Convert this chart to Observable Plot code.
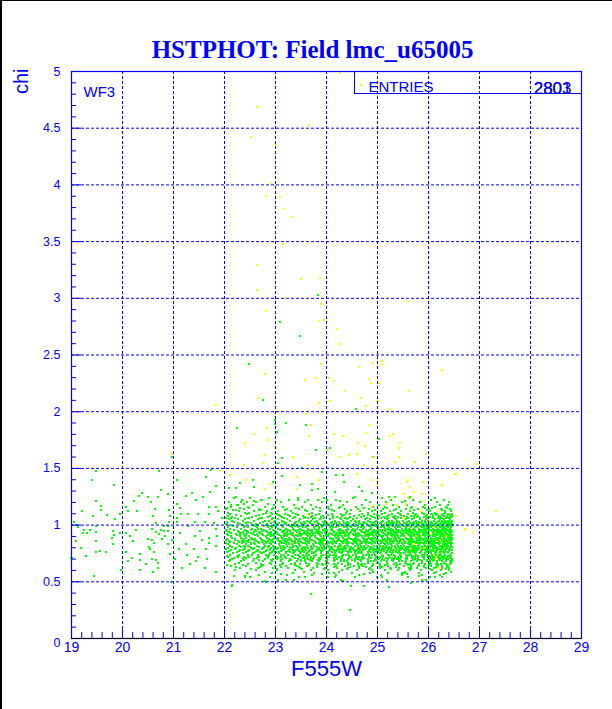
<!DOCTYPE html>
<html><head><meta charset="utf-8">
<script src="https://cdn.jsdelivr.net/npm/d3@7"></script>
<script src="https://cdn.jsdelivr.net/npm/@observablehq/plot@0.6"></script>
<style>
html,body{margin:0;padding:0;background:#fff;}
#wrap{position:relative;width:612px;height:709px;overflow:hidden;background:#fff;}
#bl{position:absolute;left:0;top:0;width:2px;height:709px;background:#000;}
#bt{position:absolute;left:0;top:0;width:612px;height:1px;background:#000;}
</style></head>
<body><div id="wrap"><div id="chart"></div><div id="bl"></div><div id="bt"></div></div>
<script>
const titleText = "HSTPHOT: Field lmc_u65005";
const xTitle = "F555W";
const yTitle = "chi";
const fieldLabel = "WF3";
const statsName = "ENTRIES";
const statsValues = ["2803", "2801"];
const xTicks = [19, 20, 21, 22, 23, 24, 25, 26, 27, 28, 29];
const yTicks = [0, 0.5, 1, 1.5, 2, 2.5, 3, 3.5, 4, 4.5, 5];

// sparse green points
const greenSparse = [
[19.48,1.475],[20.71,1.475],[19.40,1.40],[19.83,1.35],[20.75,1.31],[20.38,1.28],[20.32,1.26],[20.50,1.25],[20.70,1.25],[20.89,1.27],[19.49,1.21],[20.23,1.21],[20.55,1.20],[19.57,1.17],[20.07,1.16],[20.63,1.14],[19.58,1.13],[19.21,1.12],[20.11,1.12],[20.28,1.12],[19.95,1.10],[19.69,1.09],[19.42,1.08],[20.59,1.08],[20.93,1.08],[19.85,1.05],[19.05,1.03],[20.66,1.02],[19.09,1.00],[19.49,0.99],[20.82,0.99],[19.13,0.98],[20.90,0.99],[20.27,0.96],[19.25,0.96],[19.36,0.96],[20.58,0.97],[20.75,0.96],[19.48,0.94],[19.81,0.945],[20.66,0.94],[20.82,0.945],[19.23,0.93],[19.30,0.93],[19.95,0.93],[20.06,0.93],[19.83,0.91],[20.72,0.92],[20.84,0.90],[20.15,0.90],[19.79,0.89],[20.78,0.88],[20.50,0.88],[19.09,0.86],[19.48,0.86],[20.20,0.86],[20.58,0.87],[20.62,0.84],[19.81,0.83],[20.89,0.83],[20.52,0.81],[19.18,0.80],[20.54,0.79],[20.06,0.76],[19.49,0.76],[19.56,0.77],[19.68,0.76],[20.34,0.745],[20.62,0.76],[19.28,0.73],[20.19,0.71],[20.58,0.70],[20.34,0.69],[20.66,0.69],[20.11,0.68],[20.70,0.67],[20.46,0.66],[20.70,0.62],[20.34,0.60],[19.97,0.60],[20.59,0.59],[19.45,0.55],[19.00,0.71],
[20.97,1.60],[21.74,1.49],[21.63,1.42],[21.07,1.40],[22.56,1.40],[21.83,1.345],[22.09,1.33],[21.71,1.29],[21.36,1.28],[21.24,1.26],[22.22,1.25],[22.50,1.24],[21.58,1.25],[22.39,1.19],[22.33,1.20],[22.12,1.18],[22.85,1.19],[21.06,1.19],[21.44,1.22],[22.58,1.21],[21.12,1.15],[21.69,1.16],[21.84,1.16],[22.04,1.15],[22.23,1.13],[22.48,1.15],[22.67,1.13],[20.91,1.13],[21.29,1.10],[21.49,1.10],[21.70,1.10],[21.88,1.12],[21.15,1.10],[22.41,1.11],[22.82,1.11],[22.94,1.10],[21.95,1.06],[22.12,1.06],[22.05,1.03],[21.06,1.06],[21.62,1.03],[21.42,1.03],[20.91,1.03],[22.27,1.05],[22.46,1.06],[22.70,1.06],[21.80,1.02],[21.07,1.03],[21.29,0.99],[21.52,0.95],[20.90,0.95],[21.83,0.97],[21.12,0.93],[21.42,0.90],[21.69,0.885],[21.56,0.87],[20.98,0.87],[21.86,0.90],[21.24,0.83],[21.83,0.82],[21.69,0.84],[21.10,0.79],[21.41,0.79],[21.63,0.79],[20.93,0.745],[21.27,0.74],[21.48,0.715],[21.03,0.70],[21.66,0.70],[21.32,0.66],[21.61,0.62],[21.17,0.62],[21.84,0.59],[21.44,0.68],[20.95,0.50],[22.14,0.46],[22.81,0.50],[22.41,0.54],
[23.05,1.55],[23.13,1.59],[23.51,1.50],[23.92,1.47],[24.18,1.44],[24.32,1.44],[23.80,1.66],[22.90,1.36],[22.22,1.33],[22.31,1.37],[22.57,1.34],[22.96,1.38],[23.13,1.43],[23.48,1.35],[23.72,1.31],[23.71,1.36],[23.83,1.32],[24.17,1.29],[24.35,1.38],[24.70,1.30],[24.90,1.28],[24.64,1.34],[25.23,1.25],[25.35,1.25],[25.53,1.21],[24.55,1.25],[23.45,1.22],[23.63,1.22],[24.01,1.22],[24.26,1.21],[23.03,1.22],[22.74,1.22],[22.44,1.20],[22.27,1.18],
[25.64,1.25],[25.72,1.29],[25.93,1.15],[26.04,1.10],[26.39,1.04],[26.43,0.89],[26.47,0.68],[26.44,0.59],[26.27,0.54],[26.03,0.54],[25.66,0.49],[25.88,0.52],
[22.15,0.47],[23.69,0.39],[22.80,0.51],[23.05,0.52],[23.20,0.52],[24.05,0.58],[24.16,0.54],[24.32,0.51],[24.48,0.46],[24.74,0.46],[25.23,0.45],[25.66,0.49],[25.82,0.55],[25.48,0.58],[24.99,0.54],[23.57,0.54],[22.50,0.54],[22.41,0.55],[22.18,0.55],[24.47,0.25],
[23.83,3.03],[23.09,2.79],[23.48,2.67],[22.48,2.42],[22.76,2.10],[24.58,2.02],[22.99,1.93],[22.99,1.89],[23.21,1.90],[22.24,1.86],[23.60,1.88],[23.02,1.82],[25.03,1.76],[23.80,1.66],[24.07,1.68],[24.92,1.60]
];

// dense main band, read row by row: [chi, [F555W values]]
const greenBand = [
[1.24,[22.18,22.87,23.44,23.96,24.52,25.08,25.61,26.12]],
[1.22,[22.35,22.71,23.27,23.83,24.19,24.77,25.26,25.70,26.05,26.31]],
[1.20,[22.08,22.62,23.11,23.58,23.92,24.41,24.86,25.17,25.49,25.83,26.16,26.40]],
[1.18,[22.24,22.55,22.98,23.36,23.70,24.08,24.33,24.69,25.02,25.31,25.58,25.94,26.22,26.38]],
[1.16,[22.12,22.46,22.80,23.14,23.51,23.79,24.02,24.27,24.58,24.91,25.14,25.42,25.67,25.90,26.13,26.35]],
[1.15,[22.31,22.95,23.41,23.88,24.24,24.73,25.19,25.66,26.07,26.36]],
[1.14,[22.03,22.39,22.68,22.94,23.23,23.47,23.74,24.05,24.36,24.62,24.84,25.11,25.37,25.55,25.79,26.01,26.24,26.43]],
[1.13,[22.16,22.72,23.19,23.57,24.11,24.48,24.95,25.32,25.71,25.98,26.27,26.45]],
[1.12,[22.29,22.58,22.83,23.05,23.31,23.62,23.88,24.14,24.40,24.66,24.89,25.06,25.24,25.46,25.63,25.85,26.03,26.19,26.33,26.44]],
[1.11,[22.49,22.91,23.35,23.71,23.99,24.38,24.81,25.15,25.40,25.69,25.88,26.12,26.32,22.07]],
[1.10,[22.10,22.44,22.76,23.02,23.19,23.40,23.66,23.86,24.10,24.29,24.47,24.70,24.93,25.09,25.28,25.44,25.60,25.76,25.92,26.06,26.17,26.29,26.39,26.46]],
[1.09,[22.22,22.67,23.06,23.44,23.79,24.03,24.35,24.64,24.99,25.22,25.47,25.74,25.97,26.14,26.26,26.43,23.24,24.82]],
[1.08,[22.06,22.33,22.61,22.90,23.09,23.28,23.53,23.72,23.93,24.12,24.31,24.54,24.73,24.88,25.03,25.19,25.35,25.51,25.65,25.80,25.95,26.08,26.20,26.30,26.37,26.42,26.47,25.72]],
[1.07,[22.14,22.53,22.86,23.13,23.38,23.69,23.90,24.21,24.47,24.68,24.91,25.12,25.30,25.57,25.78,25.91,26.03,26.23,26.36,26.45,23.57,25.40]],
[1.06,[22.21,22.49,22.73,22.96,23.16,23.34,23.55,23.77,23.95,24.13,24.26,24.44,24.60,24.79,24.95,25.07,25.21,25.33,25.47,25.59,25.71,25.84,25.97,26.09,26.18,26.26,26.34,26.41,22.02,23.63,24.37,25.14]],
[1.05,[22.08,22.40,22.66,22.93,23.22,23.49,23.74,23.88,24.07,24.28,24.52,24.75,24.86,25.01,25.18,25.36,25.55,25.68,25.83,25.95,26.13,26.22,26.30,26.42,23.05,24.40]],
[1.04,[22.14,22.37,22.57,22.79,22.99,23.12,23.29,23.46,23.61,23.81,23.98,24.16,24.33,24.49,24.64,24.81,24.97,25.10,25.23,25.38,25.50,25.62,25.75,25.88,25.99,26.11,26.21,26.32,26.40,26.46,22.88,23.70,24.56,25.29,25.93,26.27]],
[1.03,[22.19,22.47,22.75,22.98,23.17,23.41,23.55,23.77,23.93,24.11,24.25,24.41,24.58,24.73,24.94,25.08,25.21,25.42,25.58,25.72,25.81,25.93,26.05,26.17,26.29,26.37,26.45,23.66,24.86,25.31]],
[1.02,[22.04,22.27,22.52,22.70,22.92,23.07,23.21,23.38,23.50,23.68,23.84,24.00,24.18,24.34,24.45,24.63,24.76,24.90,25.04,25.16,25.27,25.39,25.52,25.64,25.77,25.86,25.96,26.07,26.15,26.24,26.33,26.43,22.43,23.58,24.09,24.71,25.33,25.70,26.02,26.38]],
[1.01,[22.03,22.30,22.61,22.84,23.03,23.19,23.37,23.52,23.71,23.86,24.02,24.15,24.38,24.54,24.66,24.80,24.95,25.07,25.22,25.31,25.45,25.55,25.67,25.80,25.89,26.03,26.12,26.20,26.31,26.40,26.47,23.95,24.27,25.72]],
[1.00,[22.11,22.34,22.55,22.81,22.97,23.10,23.26,23.42,23.56,23.73,23.89,24.04,24.21,24.30,24.42,24.58,24.69,24.85,24.98,25.12,25.25,25.36,25.48,25.57,25.68,25.81,25.91,26.00,26.10,26.19,26.28,26.36,26.44,22.66,23.33,23.97,24.51,24.92,25.19,25.62,25.98,26.23,26.48,23.80]],
[0.99,[22.16,22.40,22.59,22.78,22.99,23.12,23.28,23.48,23.64,23.79,23.93,24.09,24.24,24.37,24.55,24.72,24.84,24.96,25.09,25.20,25.31,25.43,25.52,25.64,25.75,25.84,25.94,26.03,26.12,26.20,26.29,26.35,26.43,23.39,24.46,25.58,26.07,22.90]],
[0.98,[22.07,22.25,22.47,22.64,22.86,23.01,23.15,23.32,23.45,23.60,23.76,23.91,24.06,24.19,24.35,24.48,24.61,24.74,24.87,25.00,25.13,25.22,25.34,25.45,25.56,25.66,25.78,25.87,25.97,26.05,26.14,26.22,26.31,26.39,26.45,22.38,22.94,23.53,24.12,24.67,25.06,25.40,25.73,26.02,26.27,23.85,24.40,25.92]],
[0.97,[22.10,22.33,22.54,22.72,22.90,23.05,23.21,23.34,23.49,23.63,23.78,23.97,24.10,24.26,24.43,24.59,24.71,24.87,25.01,25.14,25.27,25.37,25.49,25.61,25.71,25.82,25.91,26.00,26.09,26.18,26.26,26.34,26.42,23.86,24.52,25.20,25.55,25.95,26.30,22.66]],
[0.96,[22.02,22.19,22.41,22.59,22.77,22.95,23.08,23.24,23.37,23.52,23.66,23.82,23.94,24.08,24.23,24.38,24.50,24.65,24.78,24.93,25.05,25.17,25.30,25.41,25.53,25.63,25.74,25.85,25.95,26.04,26.12,26.21,26.30,26.37,26.44,22.52,23.18,23.71,24.29,24.83,25.24,25.58,25.89,26.17,26.41,23.45,24.01,24.56,25.11,25.69]],
[0.95,[22.05,22.26,22.44,22.62,22.81,22.99,23.15,23.28,23.41,23.55,23.69,23.84,23.98,24.12,24.25,24.40,24.53,24.67,24.80,24.91,25.03,25.15,25.28,25.39,25.50,25.60,25.72,25.81,25.91,26.01,26.10,26.18,26.27,26.35,26.43,23.62,24.33,24.97,25.45,25.86,26.22,22.73]],
[0.94,[22.09,22.28,22.46,22.67,22.84,23.00,23.13,23.29,23.43,23.57,23.72,23.87,24.00,24.14,24.27,24.41,24.55,24.70,24.82,24.96,25.08,25.20,25.32,25.43,25.55,25.65,25.76,25.86,25.96,26.06,26.15,26.24,26.33,26.40,26.47,22.36,22.91,23.49,23.97,24.48,24.89,25.27,25.61,25.93,26.19,22.58,23.22,23.80,24.35,24.75,25.37,25.81]],
[0.93,[22.13,22.33,22.52,22.70,22.87,23.02,23.19,23.34,23.48,23.64,23.77,23.91,24.06,24.21,24.33,24.47,24.61,24.73,24.87,25.00,25.11,25.24,25.35,25.46,25.58,25.70,25.79,25.89,25.99,26.08,26.17,26.26,26.34,26.42,23.55,24.28,24.92,25.52,25.94,26.21,22.45,23.83]],
[0.92,[22.05,22.22,22.39,22.56,22.73,22.89,23.04,23.17,23.31,23.46,23.59,23.74,23.86,23.99,24.11,24.25,24.37,24.52,24.64,24.77,24.90,25.02,25.14,25.26,25.38,25.49,25.60,25.71,25.82,25.91,26.01,26.10,26.19,26.28,26.36,26.43,22.63,23.25,23.67,24.18,24.58,24.97,25.31,25.66,25.98,26.24,22.31,22.98,23.52,24.04,24.44,24.84,25.20,25.77]],
[0.91,[22.07,22.25,22.43,22.59,22.76,22.93,23.07,23.21,23.33,23.48,23.61,23.73,23.88,24.00,24.13,24.27,24.40,24.54,24.66,24.79,24.92,25.04,25.16,25.27,25.39,25.50,25.61,25.71,25.80,25.90,25.99,26.09,26.17,26.25,26.33,26.41,26.47,23.41,24.19,24.85,25.33,25.76,26.13,22.85]],
[0.90,[22.12,22.30,22.49,22.65,22.82,22.97,23.10,23.22,23.36,23.50,23.63,23.78,23.90,24.03,24.16,24.30,24.43,24.57,24.69,24.81,24.94,25.06,25.18,25.29,25.41,25.52,25.63,25.73,25.84,25.94,26.03,26.13,26.22,26.31,26.38,26.45,22.40,22.91,23.44,23.95,24.37,24.75,25.11,25.46,25.79,26.08,26.34,23.16,23.70,24.22,24.62,25.00,25.35,25.68,25.99,26.26]],
[0.89,[22.15,22.33,22.51,22.69,22.84,22.99,23.12,23.26,23.39,23.53,23.67,23.80,23.93,24.06,24.19,24.32,24.45,24.58,24.71,24.84,24.96,25.08,25.20,25.32,25.43,25.55,25.65,25.75,25.86,25.96,26.05,26.14,26.23,26.31,26.39,26.46,22.42,23.60,24.25,24.90,25.37,25.81,26.19,23.05]],
[0.88,[22.04,22.21,22.37,22.54,22.71,22.88,23.02,23.14,23.28,23.41,23.55,23.68,23.83,23.96,24.09,24.22,24.35,24.48,24.60,24.73,24.86,24.99,25.10,25.22,25.34,25.45,25.57,25.67,25.78,25.88,25.97,26.07,26.16,26.25,26.33,26.41,22.60,23.20,23.62,24.13,24.54,24.92,25.27,25.61,25.92,26.20,26.46,22.96,23.48,23.89,24.40,24.79,25.15,25.50,25.83,26.11]],
[0.87,[22.02,22.20,22.39,22.57,22.74,22.91,23.04,23.17,23.30,23.44,23.57,23.71,23.85,23.98,24.12,24.25,24.38,24.51,24.63,24.76,24.88,25.01,25.13,25.24,25.36,25.47,25.59,25.69,25.80,25.90,25.99,26.09,26.18,26.27,26.35,26.42,22.48,23.24,23.91,24.57,25.18,25.64,26.04,26.31]],
[0.86,[22.08,22.26,22.44,22.61,22.78,22.93,23.06,23.19,23.33,23.47,23.60,23.75,23.88,24.01,24.14,24.28,24.41,24.53,24.66,24.80,24.91,25.04,25.16,25.28,25.39,25.51,25.62,25.72,25.83,25.93,26.02,26.12,26.21,26.30,26.37,26.44,22.35,22.85,23.38,23.93,24.35,24.73,25.09,25.44,25.77,26.07,26.33,23.11,23.66,24.21,24.59,24.97,25.33,25.67,25.98,26.26]],
[0.85,[22.11,22.29,22.47,22.65,22.82,22.96,23.09,23.23,23.37,23.50,23.63,23.78,23.90,24.03,24.16,24.30,24.43,24.56,24.68,24.81,24.93,25.06,25.18,25.30,25.41,25.53,25.64,25.74,25.84,25.94,26.03,26.12,26.21,26.30,26.38,26.45,22.38,23.44,24.09,24.75,25.24,25.69,26.08,22.73]],
[0.84,[22.03,22.18,22.34,22.51,22.68,22.84,22.99,23.12,23.26,23.39,23.53,23.65,23.80,23.92,24.05,24.18,24.32,24.45,24.57,24.70,24.83,24.95,25.07,25.19,25.31,25.43,25.54,25.65,25.75,25.86,25.95,26.04,26.14,26.23,26.32,26.40,22.57,23.17,23.58,24.10,24.50,24.88,25.24,25.59,25.90,26.18,26.47,22.90,23.44,23.86,24.38,24.77,25.13,25.48,25.80,26.09]],
[0.83,[22.06,22.24,22.42,22.60,22.77,22.92,23.06,23.20,23.33,23.47,23.60,23.74,23.87,24.00,24.13,24.27,24.40,24.52,24.65,24.78,24.90,25.03,25.15,25.27,25.38,25.50,25.61,25.72,25.82,25.92,26.01,26.11,26.20,26.28,26.37,26.44,22.51,23.27,23.94,24.59,25.21,25.66,26.06,26.33]],
[0.82,[22.10,22.28,22.46,22.63,22.80,22.95,23.08,23.22,23.35,23.49,23.62,23.76,23.89,24.02,24.16,24.29,24.42,24.55,24.68,24.81,24.93,25.05,25.17,25.29,25.40,25.52,25.63,25.74,25.85,25.94,26.04,26.13,26.22,26.31,26.39,26.45,22.38,22.88,23.41,23.95,24.36,24.74,25.10,25.46,25.79,26.08,26.35,23.14,23.69,24.24,24.62,24.99,25.35,25.69,25.99,26.27]],
[0.81,[22.14,22.32,22.50,22.68,22.85,22.99,23.14,23.28,23.42,23.55,23.69,23.82,23.96,24.09,24.22,24.35,24.48,24.62,24.74,24.87,24.99,25.11,25.23,25.35,25.46,25.58,25.68,25.79,25.89,25.98,26.08,26.17,26.26,26.34,26.42,22.41,23.35,24.04,24.68,25.17,25.62,26.03,26.47,22.77]],
[0.80,[22.06,22.23,22.41,22.58,22.75,22.91,23.04,23.18,23.31,23.45,23.58,23.72,23.85,23.98,24.11,24.25,24.38,24.51,24.64,24.77,24.89,25.02,25.14,25.26,25.37,25.49,25.60,25.71,25.81,25.91,26.01,26.10,26.19,26.28,26.36,26.43,22.52,23.11,23.64,24.06,24.47,24.85,25.21,25.55,25.87,26.15,22.97,23.51,23.92,24.33,24.72,25.09,25.43,25.76]],
[0.79,[22.03,22.21,22.39,22.56,22.73,22.89,23.03,23.16,23.30,23.44,23.58,23.71,23.84,23.97,24.10,24.23,24.37,24.50,24.62,24.75,24.88,25.00,25.12,25.24,25.36,25.47,25.58,25.69,25.80,25.90,26.00,26.09,26.18,26.27,26.35,26.43,23.51,24.29,24.94,25.52,25.95,26.22]],
[0.78,[22.13,22.31,22.49,22.66,22.83,22.98,23.13,23.27,23.40,23.54,23.67,23.81,23.94,24.07,24.20,24.33,24.46,24.59,24.72,24.84,24.97,25.09,25.21,25.33,25.45,25.56,25.67,25.78,25.88,25.98,26.07,26.16,26.25,26.33,26.41,26.47,22.36,22.89,23.35,23.88,24.27,24.66,25.03,25.39,25.73,26.03,26.30,23.60,24.14,24.53,24.92,25.27,25.62,25.94]],
[0.77,[22.09,22.28,22.46,22.64,22.81,22.96,23.10,23.25,23.38,23.52,23.65,23.79,23.92,24.05,24.18,24.32,24.45,24.58,24.70,24.83,24.95,25.07,25.19,25.31,25.43,25.54,25.65,25.76,25.86,25.96,26.06,26.15,26.24,26.32,26.40,23.46,24.38,25.12,25.72,26.11]],
[0.76,[22.05,22.24,22.43,22.60,22.78,22.94,23.07,23.21,23.36,23.50,23.63,23.77,23.90,24.03,24.17,24.30,24.43,24.56,24.69,24.82,24.94,25.06,25.18,25.30,25.42,25.53,25.64,25.75,25.85,25.95,26.05,26.14,26.23,26.32,26.39,22.69,23.29,23.71,24.24,24.63,25.00,25.36,25.69,26.00,26.28,23.00,23.56,24.10,24.49,24.88,25.24,25.59]],
[0.75,[22.16,22.36,22.55,22.74,22.90,23.06,23.20,23.35,23.49,23.62,23.76,23.89,24.02,24.16,24.29,24.42,24.55,24.68,24.81,24.93,25.05,25.17,25.29,25.41,25.52,25.63,25.74,25.84,25.94,26.04,26.13,26.22,26.31,26.39,26.46,23.71,24.62,25.46]],
[0.74,[22.11,22.29,22.47,22.65,22.81,22.97,23.11,23.25,23.39,23.53,23.66,23.80,23.93,24.06,24.19,24.32,24.45,24.58,24.71,24.83,24.96,25.08,25.20,25.32,25.44,25.55,25.66,25.76,25.87,25.97,26.06,26.15,26.24,26.33,26.42,22.54,23.17,23.59,24.12,24.52,24.90,25.26,25.61,25.92,26.20,22.88,23.45,23.99,24.38,24.77]],
[0.73,[22.04,22.25,22.46,22.66,22.84,23.01,23.16,23.32,23.47,23.61,23.75,23.89,24.03,24.17,24.30,24.44,24.58,24.71,24.84,24.97,25.10,25.22,25.34,25.46,25.58,25.69,25.80,25.91,26.01,26.11,26.21,26.30,26.38,26.45]],
[0.72,[22.07,22.27,22.48,22.68,22.86,23.03,23.19,23.34,23.48,23.62,23.76,23.90,24.04,24.18,24.31,24.44,24.57,24.70,24.84,24.97,25.10,25.22,25.34,25.46,25.57,25.68,25.79,25.89,25.99,26.09,26.18,26.27,26.36,26.44,22.39,23.10,23.69,24.24,24.64,25.04,25.40,25.73,26.04,26.31,23.55,24.49]],
[0.71,[22.18,22.42,22.64,22.85,23.04,23.21,23.38,23.54,23.70,23.85,24.00,24.15,24.30,24.45,24.60,24.74,24.88,25.02,25.16,25.29,25.42,25.55,25.67,25.79,25.91,26.02,26.13,26.23,26.33,26.42]],
[0.70,[22.15,22.37,22.58,22.79,22.96,23.13,23.28,23.44,23.58,23.73,23.87,24.01,24.15,24.29,24.42,24.56,24.69,24.82,24.95,25.08,25.21,25.33,25.45,25.57,25.69,25.80,25.91,26.01,26.11,26.20,26.29,26.38,26.46,23.02,23.64,24.21,24.62,25.01,25.38,25.74,26.06,26.34]],
[0.69,[22.11,22.39,22.67,22.91,23.11,23.31,23.50,23.67,23.84,24.01,24.17,24.34,24.50,24.66,24.82,24.98,25.13,25.28,25.42,25.56,25.70,25.84,25.97,26.10,26.22,26.34]],
[0.68,[22.09,22.33,22.55,22.76,22.93,23.10,23.26,23.42,23.57,23.72,23.86,24.00,24.14,24.28,24.41,24.55,24.68,24.81,24.94,25.07,25.19,25.31,25.43,25.55,25.66,25.77,25.88,25.98,26.08,26.17,26.26,26.35,26.43,23.50,24.35,24.88,25.49,26.02]],
[0.67,[22.28,22.61,22.89,23.14,23.38,23.60,23.81,24.02,24.22,24.42,24.62,24.81,25.00,25.18,25.36,25.54,25.71,25.87,26.02,26.17,26.31,26.44]],
[0.66,[22.20,22.46,22.71,22.92,23.12,23.31,23.49,23.66,23.83,23.99,24.15,24.30,24.46,24.61,24.76,24.91,25.05,25.19,25.32,25.45,25.58,25.70,25.82,25.94,26.05,26.15,26.25,26.34,26.42,23.92,24.70,25.63]],
[0.65,[22.37,22.76,23.09,23.39,23.66,23.93,24.18,24.43,24.68,24.92,25.15,25.38,25.60,25.81,26.01,26.19,26.36,22.05]],
[0.64,[22.12,22.43,22.74,22.99,23.21,23.43,23.62,23.82,24.01,24.19,24.37,24.54,24.72,24.89,25.05,25.21,25.36,25.51,25.65,25.79,25.92,26.04,26.16,26.27,26.38,24.63]],
[0.63,[22.22,22.69,23.10,23.47,23.82,24.15,24.47,24.78,25.08,25.37,25.65,25.91,26.15,26.37]],
[0.62,[22.31,22.66,22.95,23.24,23.49,23.74,23.97,24.20,24.42,24.64,24.85,25.05,25.24,25.43,25.61,25.78,25.95,26.11,26.26,26.40]],
[0.61,[22.51,23.02,23.51,23.96,24.41,24.84,25.26,25.66,26.02,26.34]],
[0.60,[22.21,22.62,23.03,23.38,23.70,24.02,24.31,24.60,24.89,25.15,25.40,25.64,25.86,26.06,26.24,26.41]],
[0.59,[22.80,23.56,24.25,24.91,25.54,26.14,26.45]],
[0.58,[22.45,22.93,23.35,23.76,24.14,24.50,24.86,25.20,25.52,25.82,26.10,26.35]],
[0.57,[23.10,23.92,24.74,25.58,26.30]],
[0.56,[22.68,23.22,23.71,24.19,24.63,25.07,25.49,25.88,26.23]],
[0.54,[22.90,23.47,24.02,24.55,25.09,25.60,26.12]],
[0.52,[23.36,24.29,25.18,25.95]]
];

const yellowPts = [
[24.27,4.985],[24.68,4.88],[22.63,4.69],[23.66,4.53],[22.52,4.42],[23.01,4.35],[22.92,4.01],[22.82,3.90],[23.09,3.89],[23.17,3.79],[23.33,3.72],[23.14,3.48],[22.63,3.29],[23.50,3.17],[23.88,3.18],[22.63,3.07],[23.18,3.00],[25.60,2.98],[23.89,2.95],[22.82,2.89],[23.85,2.80],[23.96,2.81],[24.20,2.73],[24.25,2.60],[23.89,2.42],[24.64,2.39],[24.91,2.43],[25.09,2.45],[25.09,2.42],[26.27,2.37],[22.79,2.33],[23.58,2.28],[23.80,2.30],[24.05,2.30],[24.15,2.27],[24.83,2.29],[24.87,2.25],[25.03,2.25],[24.36,2.18],[25.62,2.18],[22.66,2.12],[24.68,2.12],[21.83,2.06],[23.85,2.08],[24.07,2.09],[24.77,2.05],[25.00,2.09],[25.25,2.02],[23.02,2.01],[23.60,1.98],[22.83,1.86],[23.69,1.88],[24.83,1.88],[22.58,1.80],[22.87,1.75],[23.66,1.79],[24.15,1.80],[24.32,1.79],[24.78,1.81],[25.25,1.79],[25.30,1.80],[22.40,1.72],[24.62,1.72],[24.75,1.70],[25.45,1.72],[25.42,1.68],[24.03,1.66],[23.00,1.68],[25.96,1.63],[25.42,1.60],[25.74,1.56],[26.96,1.54],[26.53,1.45],[25.60,1.40],[25.90,1.38],[26.26,1.35],[25.64,1.34],[25.51,1.27],[27.32,1.12],[26.56,1.08],[26.87,0.94],[26.73,0.96],[26.19,1.12],[20.95,1.63],[22.80,1.62],[22.39,1.53],[22.76,1.55],[21.91,1.48],[22.11,1.44],[22.42,1.40],[22.90,1.36],[22.80,1.32],[23.34,1.60],[24.27,1.60],[24.45,1.62],[24.60,1.63],[24.94,1.60],[23.63,1.53],[24.74,1.53],[25.00,1.50],[25.34,1.56],[23.42,1.42],[23.86,1.40],[24.60,1.45],[24.91,1.40],[24.99,1.36],[25.58,1.38],[25.89,1.38],[26.52,1.45],[22.79,1.32],[23.43,1.32],[25.50,1.27],[25.60,1.24],[25.87,1.27],[25.72,1.29],[24.90,1.17],[25.19,1.19],[25.39,1.18],[25.55,1.19],[25.92,1.21],[25.85,1.12],[26.18,1.12],[23.63,1.09],[25.50,1.06],[26.01,1.03],[26.10,0.98],[26.05,0.93],[26.34,0.90],[25.76,0.90],[26.23,0.87],[25.71,0.83],[25.92,0.80],[26.10,0.74],[26.18,0.62],[26.14,0.71],[26.72,0.97]
];

const BLUE = "#0000ff";
const W = 612, H = 709, ML = 71, MR = 31, MT = 71, MB = 71;
const frameW = W - ML - MR, frameH = H - MT - MB;
const band = greenBand.flatMap(([y, xs]) => xs.map(x => [x, y]));
const greenPts = greenSparse.concat(band);
const xGrid = xTicks.slice(1, -1);
const yGrid = yTicks.slice(1, -1);
const xMinor = d3.range(0, 51).map(i => 19 + i * 0.2).filter((v, i) => i % 5 !== 0);
const yMinor = d3.range(0, 51).map(i => i * 0.1).filter((v, i) => i % 5 !== 0);
const fmt = d => String(d);
const SANS = "'Liberation Sans', Arial, Helvetica, sans-serif";

const chart = Plot.plot({
  width: W, height: H,
  marginLeft: ML, marginRight: MR, marginTop: MT, marginBottom: MB,
  x: {domain: [19, 29], axis: null},
  y: {domain: [0, 5], axis: null},
  style: {background: "#fff", fontFamily: SANS, overflow: "visible"},
  marks: [
    Plot.dot(greenPts, {x: d => d[0], y: d => d[1], symbol: "square", r: 1.13, fill: "#00ff00", stroke: "none", shapeRendering: "crispEdges"}),
    Plot.dot(yellowPts, {x: d => d[0], y: d => d[1], symbol: "square", r: 1.13, fill: "#ffff00", stroke: "none", shapeRendering: "crispEdges"}),
    Plot.ruleX(xGrid, {x: d => d, stroke: BLUE, strokeWidth: 1, strokeDasharray: "3,2"}),
    Plot.ruleY(yGrid, {y: d => d, stroke: BLUE, strokeWidth: 1, strokeDasharray: "3,2"}),
    Plot.tickX(xMinor, {x: d => d, stroke: BLUE, insetTop: frameH - 6}),
    Plot.tickX(xTicks, {x: d => d, stroke: BLUE, insetTop: frameH - 11}),
    Plot.tickY(yMinor, {y: d => d, stroke: BLUE, insetRight: frameW - 5}),
    Plot.tickY(yTicks, {y: d => d, stroke: BLUE, insetRight: frameW - 10}),
    Plot.frame({stroke: BLUE, strokeWidth: 1.2}),
    Plot.ruleY([0], {stroke: "#000", strokeWidth: 1.2}),
    Plot.frame({stroke: BLUE, insetLeft: 283, insetBottom: 545}),
    Plot.text(xTicks, {x: d => d, frameAnchor: "bottom", text: fmt, dy: 13, fill: BLUE, fontSize: 14}),
    Plot.text(yTicks.filter(d => d !== 0), {y: d => d, frameAnchor: "left", text: fmt, textAnchor: "end", dx: -11, fill: BLUE, fontSize: 12.5}),
    Plot.text(yTicks.filter(d => d === 0), {y: d => d, frameAnchor: "left", text: fmt, textAnchor: "end", dx: -11, dy: 4, fill: BLUE, fontSize: 12.5}),
    Plot.text([titleText], {frameAnchor: "top", text: d => d, dx: -14, dy: -31, fill: BLUE, fontSize: 25, fontWeight: "bold", fontFamily: "'Liberation Serif', 'Times New Roman', serif"}),
    Plot.text([xTitle], {frameAnchor: "bottom", text: d => d, dy: 37, fill: BLUE, fontSize: 22}),
    Plot.text([yTitle], {frameAnchor: "top-left", text: d => d, rotate: -90, textAnchor: "end", dx: -58, dy: -3, fill: BLUE, fontSize: 20}),
    Plot.text([fieldLabel], {frameAnchor: "top-left", text: d => d, textAnchor: "start", dx: 12, dy: 15, fill: BLUE, fontSize: 15}),
    Plot.text([statsName], {frameAnchor: "top-left", text: d => d, textAnchor: "start", dx: 297, dy: 10, fill: BLUE, fontSize: 15}),
    Plot.text(statsValues, {frameAnchor: "top-right", text: d => d, textAnchor: "end", dx: -10, dy: 10, fill: BLUE, fontSize: 17})
  ]
});
document.getElementById("chart").appendChild(chart);
</script>
</body></html>
